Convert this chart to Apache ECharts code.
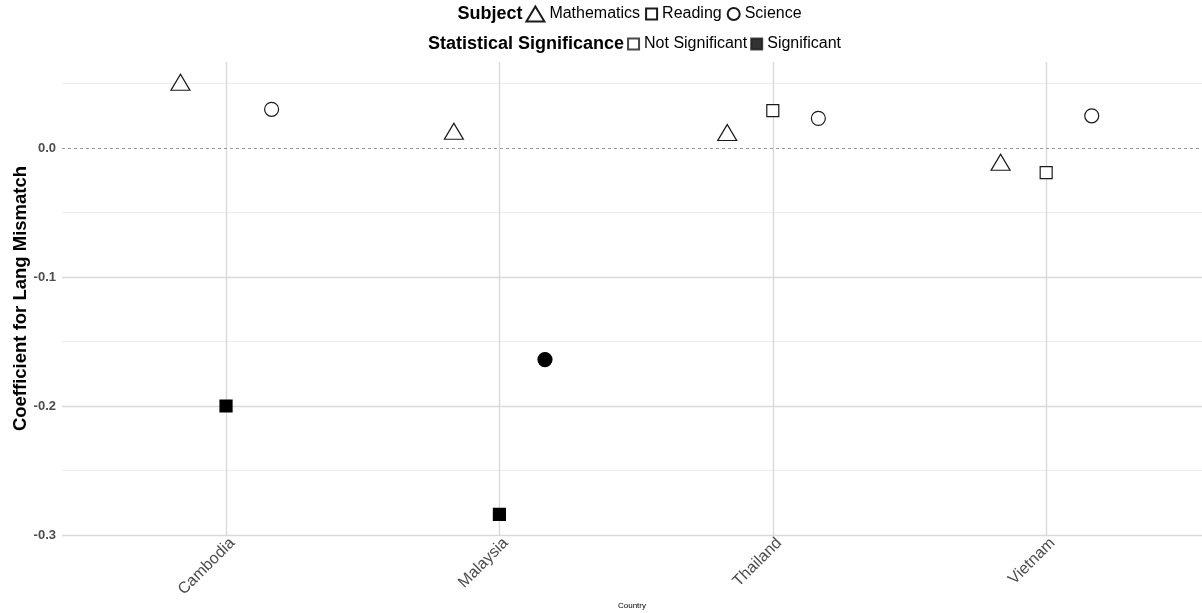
<!DOCTYPE html>
<html><head><meta charset="utf-8">
<script src="https://cdn.jsdelivr.net/npm/echarts@6/dist/echarts.min.js"></script>
<style>html,body{margin:0;padding:0;background:#fff}#c{width:1202px;height:613px}</style>
</head><body><div id="c"></div>
<script>
const countries = ['Cambodia', 'Malaysia', 'Thailand', 'Vietnam'];
const subjects = ['Mathematics', 'Reading', 'Science'];
const mathValues = [0.051, 0.013, 0.012, -0.011];
const readingValues = [-0.200, -0.284, 0.029, -0.019];
const scienceValues = [0.030, -0.164, 0.023, 0.025];
const mathSignificant = [false, false, false, false];
const readingSignificant = [true, true, false, false];
const scienceSignificant = [false, true, false, false];
const significanceLevels = ['Not Significant', 'Significant'];
const yTicks = [-0.3, -0.2, -0.1, 0.0];
const yMinorTicks = [-0.25, -0.15, -0.05, 0.05];
const subjectTitle = 'Subject';
const significanceTitle = 'Statistical Significance';

const FONT = '"Liberation Sans", Arial, Helvetica, sans-serif';
const LEG_FS = 16;
const LEG_TITLE_FS = 18;
const dodge = [-1 / 6, 0, 1 / 6];
const symbols = ['triangle', 'rect', 'circle'];
const sizes = [[19, 16], 12, 14];
const valuesBySubject = [mathValues, readingValues, scienceValues];
const sigBySubject = [mathSignificant, readingSignificant, scienceSignificant];

const pointSeries = subjects.map((name, s) => ({
  name: name,
  type: 'scatter',
  symbol: symbols[s],
  symbolSize: sizes[s],
  z: 5,
  itemStyle: { color: '#ffffff', borderColor: '#1a1a1a', borderWidth: 1.2, opacity: 1 },
  data: valuesBySubject[s].map((v, i) => ({
    value: [i + 1 + dodge[s], v],
    itemStyle: sigBySubject[s][i] ? { color: '#000000', borderColor: '#000000' } : undefined
  }))
}));

const legendSeries = significanceLevels.map((name, k) => ({
  name: name,
  type: 'scatter',
  symbol: 'rect',
  data: [],
  itemStyle: { color: k === 1 ? '#000000' : '#ffffff', borderColor: '#1a1a1a', borderWidth: 1 }
}));

const gridSeries = {
  name: 'grid',
  type: 'scatter',
  data: [],
  silent: true,
  z: 1,
  markLine: {
    silent: true,
    symbol: 'none',
    label: { show: false },
    animation: false,
    data: [
      ...yMinorTicks.map(v => ({ yAxis: v, lineStyle: { color: '#ededed', width: 1.2, type: 'solid' } })),
      ...yTicks.filter(v => v !== 0).map(v => ({ yAxis: v, lineStyle: { color: '#d9d9d9', width: 1.4, type: 'solid' } })),
      ...countries.map((c, i) => ({ xAxis: i + 1, lineStyle: { color: '#d9d9d9', width: 1.4, type: 'solid' } })),
      { yAxis: 0, lineStyle: { color: '#9a9a9a', width: 1, type: [3, 3] } }
    ]
  }
};

// ---- legend layout (two centred rows, each with a bold title) ----
const mctx = document.createElement('canvas').getContext('2d');
function tw(text, font) { mctx.font = font; return mctx.measureText(text).width; }
const titleFont = 'bold ' + LEG_TITLE_FS + 'px ' + FONT;
const itemFont = LEG_FS + 'px ' + FONT;
const rows = [
  { cy: 14, cx: 629, itemGap: 6, title: subjectTitle, items: [
    { name: subjects[0], w: 18, h: 15 }, { name: subjects[1], w: 11, h: 11 }, { name: subjects[2], w: 12, h: 12 }] },
  { cy: 44, cx: 634, itemGap: 4, title: significanceTitle, items: [
    { name: significanceLevels[0], w: 11, h: 11 }, { name: significanceLevels[1], w: 11, h: 11 }] }
];
const titleGap = 3, textGap = 5;
const graphics = [];
const legends = [];
rows.forEach(row => {
  const tW = tw(row.title, titleFont);
  let total = tW + titleGap;
  row.items.forEach((it, k) => { total += it.w + textGap + tw(it.name, itemFont) + (k < row.items.length - 1 ? row.itemGap : 0); });
  let x = row.cx - total / 2;
  graphics.push({ type: 'text', x: x, y: row.cy, style: { text: row.title, font: titleFont, fill: '#000', verticalAlign: 'middle' } });
  x += tW + titleGap;
  row.items.forEach(it => {
    legends.push({
      data: [it.name], left: x, top: row.cy - 10, padding: 0, itemGap: 0,
      itemWidth: it.w, itemHeight: it.h, selectedMode: false,
      textStyle: { fontSize: LEG_FS, color: '#000', fontFamily: FONT, lineHeight: 20 }
    });
    x += it.w + textGap + tw(it.name, itemFont) + row.itemGap;
  });
});

const chart = echarts.init(document.getElementById('c'));
chart.setOption({
  animation: false,
  backgroundColor: '#ffffff',
  textStyle: { fontFamily: FONT },
  grid: { left: 62, right: 0, top: 62, bottom: 78, containLabel: false, outerBoundsMode: 'none' },
  graphic: graphics,
  legend: legends,
  xAxis: {
    type: 'value',
    min: 0.4,
    max: 4.57,
    name: 'Country',
    nameLocation: 'middle',
    nameGap: 67,
    nameMoveOverlap: false,
    nameTextStyle: { fontSize: 8, color: '#000', fontFamily: FONT },
    axisLine: { show: false },
    axisTick: { show: false, customValues: [1, 2, 3, 4] },
    splitLine: { show: false },
    axisLabel: {
      customValues: [1, 2, 3, 4],
      rotate: 45,
      margin: 12,
      padding: [0, -9, 0, 0],
      fontSize: 16,
      color: '#4d4d4d',
      fontFamily: FONT,
      formatter: v => countries[Math.round(v) - 1] || ''
    }
  },
  yAxis: {
    type: 'value',
    min: -0.3,
    max: 0.0667,
    interval: 0.1,
    name: 'Coefficient for Lang Mismatch',
    nameLocation: 'middle',
    nameRotate: 90,
    nameGap: 32,
    nameMoveOverlap: false,
    nameTextStyle: { fontSize: 18.5, fontWeight: 'bold', color: '#000', fontFamily: FONT },
    axisLine: { show: false },
    axisTick: { show: false },
    splitLine: { show: false },
    axisLabel: {
      showMaxLabel: false,
      margin: 6,
      fontSize: 13,
      fontWeight: 'bold',
      color: '#4d4d4d',
      fontFamily: FONT,
      formatter: v => (Math.abs(v) < 1e-9 ? '0.0' : (Math.abs(v * 10 - Math.round(v * 10)) < 1e-6 ? v.toFixed(1) : ''))
    }
  },
  series: [gridSeries, ...pointSeries, ...legendSeries]
});
</script></body></html>
